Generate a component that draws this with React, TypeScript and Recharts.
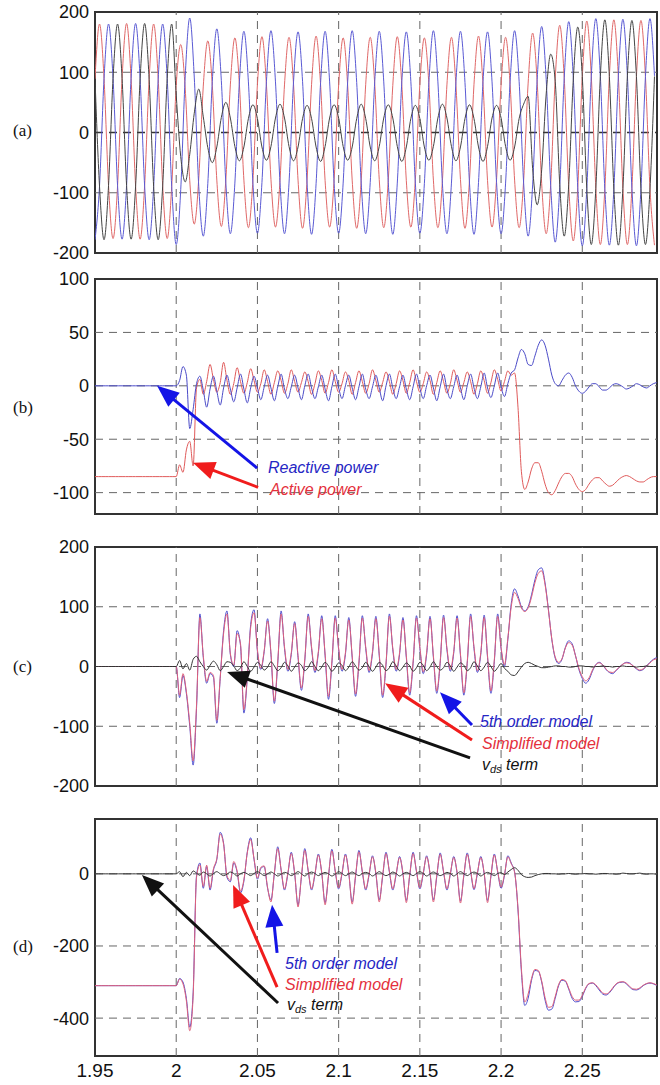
import React from "react";
import {
  LineChart,
  Line,
  XAxis,
  YAxis,
  ReferenceLine,
  ReferenceArea,
} from "recharts";

// time axis (s)
const T_START = 1.95;
const T_END = 2.296;
const STEP_A = 1 / 360;
const STEP_BCD = 1 / 480;
const X_TICKS = [1.95, 2, 2.05, 2.1, 2.15, 2.2, 2.25];
const X_GRID = [2, 2.05, 2.1, 2.15, 2.2, 2.25];

// (a) stator currents, sampled every STEP_A
const RED_A = [
  89, 180, 90, -88, -176, -89,
  90, 181, 89, -89, -177, -88,
  89, 180, 90, -88, -176, -90,
  78, 146, 72, -80, -152, -76,
  77, 152, 78, -79, -156, -78,
  79, 157, 80, -79, -158, -79,
  80, 159, 79, -78, -157, -80,
  79, 158, 80, -79, -159, -79,
  80, 160, 79, -80, -157, -78,
  79, 157, 78, -79, -159, -80,
  80, 158, 80, -78, -158, -79,
  78, 159, 79, -80, -157, -78,
  80, 157, 80, -79, -158, -80,
  79, 158, 78, -78, -159, -79,
  80, 160, 79, -80, -157, -78,
  79, 158, 80, -79, -158, -80,
  82, 165, 84, -85, -168, -86,
  89, 178, 90, -90, -180, -91,
  92, 185, 93, -92, -186, -93,
  93, 187, 92, -93, -186, -92,
  93, 186, 93, -92, -187,
];
const BLUE_A = [
  -178, -89, 89, 180, 90, -88,
  -177, -88, 90, 181, 89, -89,
  -178, -90, 88, 180, 90, -89,
  -186, -95, 94, 190, 92, -90,
  -172, -85, 85, 172, 86, -84,
  -168, -84, 84, 168, 84, -84,
  -167, -83, 85, 169, 84, -83,
  -168, -84, 84, 167, 85, -84,
  -169, -85, 83, 168, 84, -85,
  -167, -84, 84, 169, 83, -84,
  -168, -83, 85, 168, 84, -83,
  -169, -84, 84, 167, 85, -84,
  -167, -85, 83, 169, 84, -85,
  -168, -84, 84, 168, 83, -84,
  -169, -83, 85, 167, 84, -83,
  -168, -84, 84, 169, 85, -84,
  -172, -87, 88, 176, 88, -88,
  -182, -91, 91, 184, 92, -92,
  -188, -94, 94, 189, 94, -94,
  -187, -94, 94, 188, 94, -93,
  -188, -94, 93, 189, 94,
];
const BLACK_A = [
  89, -89, -178, -88, 90, 180,
  90, -88, -177, -89, 89, 181,
  88, -90, -178, -89, 90, 180,
  62, -40, -82, -36, 32, 72,
  26, -25, -50, -24, 25, 50,
  24, -23, -47, -24, 23, 46,
  23, -24, -46, -23, 24, 47,
  24, -23, -47, -24, 23, 45,
  23, -24, -48, -23, 24, 46,
  24, -23, -46, -24, 23, 47,
  23, -24, -47, -23, 24, 46,
  24, -23, -48, -24, 23, 45,
  23, -24, -46, -23, 24, 47,
  24, -23, -47, -24, 23, 46,
  23, -24, -48, -23, 24, 45,
  24, -23, -46, -24, 23, 47,
  60, -60, -120, -62, 64, 130,
  85, -86, -172, -86, 87, 175,
  93, -93, -186, -93, 93, 187,
  93, -94, -187, -93, 94, 186,
  93, -93, -186, -94, 93,
];

// (b) powers, sampled every STEP_BCD
const REACTIVE_B = [
  0, 0, 0, 0, 0, 0, 0, 0, 0, 0, 0, 0, 0, 0, 0, 0, 0, 0, 0, 0, 0, 0, 0, 0, 0,
  5, 18, 10, -40, -22, 2, 9,
  -4, -20, -3, 9, -5, -18, -2, 10, -3, -15, -2, 11, -3, -16, -2, 9,
  -2, -13, -1, 10, -2, -14, -1, 11, -3, -12, -1, 10, -2, -13, 0, 11,
  -2, -12, -1, 10, -3, -14, -1, 11, -2, -12, 0, 10, -2, -13, -1, 11,
  -3, -12, -1, 10, -2, -14, 0, 11, -2, -12, -1, 10, -3, -13, -1, 11,
  -2, -12, 0, 10, -2, -14, -1, 11, -3, -12, -1, 10, -2, -13, 0, 11,
  -2, -12, -1, 12, -2, -11, 0, 12, -1, -10, 2, 12,
  15, 26, 34, 30, 20, 19, 28, 38, 43, 38, 25, 10, 2, 0, 5, 10, 12, 8, 0, -5,
  -7, -5, -1, 2, 2, -1, -4, -4, -2, 1, 2, 1, -1, -3, -2, 0, 2, 1, -1, -2,
  0, 2, 3,
];
const ACTIVE_B = [
  -85, -85, -85, -85, -85, -85, -85, -85, -85, -85, -85, -85, -85, -85, -85,
  -85, -85, -85, -85, -85, -85, -85, -85, -85, -85,
  -74, -81, -60, -52, -75, -2, 6,
  -8, 4, 20, 6, -6, 3, 22, 5, -8, 2, 17, 4, -7, 3, 16, 5,
  -6, 2, 15, 4, -8, 3, 14, 5, -7, 2, 15, 4, -6, 3, 13, 4,
  -8, 2, 14, 5, -7, 3, 15, 4, -6, 2, 13, 5, -8, 3, 14, 4,
  -7, 2, 15, 5, -6, 3, 13, 4, -8, 2, 14, 5, -7, 3, 15, 4,
  -6, 2, 13, 5, -8, 3, 14, 4, -7, 2, 15, 5, -6, 3, 13, 4,
  -8, 2, 14, 5, -7, 3, 15, 6, -5, 4, 14, 10,
  12, -20, -80, -97, -90, -78, -72, -72, -80, -92, -100, -102, -98, -91, -85,
  -82, -82, -85, -92, -97, -99, -97, -92, -88, -86, -86, -89, -92, -94, -93,
  -90, -87, -85, -84, -85, -87, -89, -90, -90, -88, -86, -85, -85,
];

// (c) rotor current, sampled every STEP_BCD
const FIFTH_C = [
  0, 0, 0, 0, 0, 0, 0, 0, 0, 0, 0, 0, 0, 0, 0, 0, 0, 0, 0, 0, 0, 0, 0, 0, 0,
  -52, -15, -45, -100, -165, -70, 88, 15, -28, -12, -18, -95, -20, 60, 93,
  20, 0, 60, 35, -78, -20, 70, 95,
  25, -5, 25, 80, 20, -62, 5, 93,
  30, -8, 20, 75, 15, -40, 10, 88,
  30, -10, 22, 85, 18, -55, 5, 85,
  28, -8, 20, 82, 15, -50, 5, 85,
  30, -10, 22, 84, 18, -52, 3, 88,
  28, -8, 20, 82, 15, -48, 5, 85,
  30, -12, 20, 84, 15, -45, 5, 86,
  28, -8, 22, 85, 18, -48, 5, 88,
  30, -10, 20, 86, 15, -45, 8, 88,
  30, 0, 45, 105, 130, 118, 100, 93, 100, 120, 145, 162, 165, 140, 95, 45,
  14, 5, 12, 32, 43, 38, 18, -5, -20, -28, -22, -8, 3, 7, 3, -5, -10, -12,
  -7, -1, 4, 7, 6, 1, -4, -7, -5, 1, 7, 12, 15,
];
const SIMPLE_C = [
  0, 0, 0, 0, 0, 0, 0, 0, 0, 0, 0, 0, 0, 0, 0, 0, 0, 0, 0, 0, 0, 0, 0, 0, 0,
  -48, -12, -42, -95, -158, -65, 82, 18, -25, -10, -15, -90, -18, 55, 88,
  22, 2, 55, 38, -72, -18, 65, 90,
  28, -3, 27, 76, 23, -58, 8, 88,
  33, -5, 23, 72, 18, -36, 13, 84,
  33, -7, 25, 80, 21, -50, 8, 81,
  31, -5, 23, 78, 18, -46, 8, 81,
  33, -7, 25, 80, 21, -48, 6, 84,
  31, -5, 23, 78, 18, -44, 8, 81,
  33, -9, 23, 80, 18, -41, 8, 82,
  31, -5, 25, 81, 21, -44, 8, 84,
  33, -7, 23, 82, 18, -41, 11, 84,
  32, 3, 47, 100, 124, 114, 98, 92, 98, 116, 140, 156, 160, 137, 94, 46,
  16, 7, 13, 31, 40, 36, 18, -3, -17, -24, -19, -6, 3, 6, 3, -4, -9, -10,
  -6, -1, 4, 6, 5, 1, -3, -6, -4, 1, 6, 11, 13,
];
const VDS_C = [
  0, 0, 0, 0, 0, 0, 0, 0, 0, 0, 0, 0, 0, 0, 0, 0, 0, 0, 0, 0, 0, 0, 0, 0, 0,
  10, -4, 5, -6, 12, 17, 8,
  0, -6, 2, 9, 3, -7, 0, 8,
  7, 1, -7, -2, 8, 0, -8, -1, 7, 2, -6, -1, 8, 1, -7, -2,
  7, 1, -8, -1, 6, 2, -7, -2, 8, 0, -7, -1, 7, 1, -8, -2,
  6, 2, -7, -1, 8, 1, -6, -2, 7, 0, -8, -1, 7, 2, -7, -2,
  8, 1, -7, -1, 6, 1, -8, -2, 7, 2, -7, -1, 8, 0, -6, -2,
  7, 1, -8, -1, 6, 2, -7, -2, 8, 1, -7, -1, 7, 0, -8, -2,
  5, -3, -8, -14, -15, -9, -1, 5, 7, 5, 2, 0, -2, -2, -1, 0, 1, 1, 0, 0,
  -1, -1, 0, 1, 1, 0, 0, -1, 0, 0, 1, 0, 0, -1, 0, 0, 1, 0, 0, 0,
  -1, 0, 0, 1, 0, 0, 0,
];

// (d) rotor current, sampled every STEP_BCD
const FIFTH_D = [
  -310, -310, -310, -310, -310, -310, -310, -310, -310, -310, -310, -310, -310,
  -310, -310, -310, -310, -310, -310, -310, -310, -310, -310, -310, -310,
  -290, -300, -345, -425, -330, -5, 30, -40, 20, -45, 10, 40, 115, 85, -10,
  -22, 30, 5, -53, -20, 60, 100, 40,
  -15, 15, 20, -40, -72, 0, 75, 10,
  -45, 0, 60, 0, -86, -10, 70, 8,
  -45, -2, 55, 2, -80, -8, 68, 6,
  -42, 0, 55, 0, -78, -8, 65, 5,
  -45, -3, 50, 0, -72, -8, 60, 5,
  -45, -2, 48, 0, -74, -6, 60, 6,
  -42, 0, 50, 0, -72, -8, 58, 5,
  -45, -2, 48, 2, -75, -6, 58, 6,
  -44, 0, 48, 0, -74, -8, 55, 5,
  -40, -5, 50, 30,
  5, -100, -270, -365, -345, -295, -268, -270, -300, -350, -378, -375, -345,
  -310, -295, -298, -320, -345, -355, -354, -340, -318, -305, -303, -310,
  -322, -333, -336, -330, -318, -306, -301, -300, -305, -314, -321, -322,
  -318, -310, -305, -303, -305, -309,
];
const SIMPLE_D = [
  -310, -310, -310, -310, -310, -310, -310, -310, -310, -310, -310, -310, -310,
  -310, -310, -310, -310, -310, -310, -310, -310, -310, -310, -310, -310,
  -292, -305, -352, -435, -340, -10, 25, -35, 24, -40, 14, 42, 110, 82, -6,
  -18, 34, 8, -48, -16, 58, 95, 42,
  -12, 18, 22, -38, -78, 3, 70, 12,
  -42, 3, 56, 3, -92, -6, 65, 10,
  -42, 1, 52, 5, -86, -4, 64, 8,
  -39, 3, 52, 3, -84, -4, 61, 7,
  -42, 0, 47, 3, -78, -4, 56, 7,
  -42, 1, 45, 3, -80, -2, 56, 8,
  -39, 3, 47, 3, -78, -4, 54, 7,
  -42, 1, 45, 5, -81, -2, 54, 8,
  -41, 3, 45, 3, -80, -4, 52, 7,
  -37, -2, 47, 28,
  4, -95, -262, -355, -333, -290, -265, -268, -297, -343, -370, -368, -340,
  -307, -293, -296, -317, -340, -350, -350, -337, -316, -304, -302, -308,
  -319, -330, -333, -328, -316, -305, -300, -299, -303, -312, -319, -320,
  -316, -309, -304, -302, -304, -308,
];
const VDS_D = [
  0, 0, 0, 0, 0, 0, 0, 0, 0, 0, 0, 0, 0, 0, 0, 0, 0, 0, 0, 0, 0, 0, 0, 0, 0,
  6, -8, 4, -5, 8, 2, -4,
  5, 0, -6, 1, 6, 0, -5, -1, 5, 1, -6, 0, 4, 0, -5, 1,
  6, 1, -5, 0, 5, 0, -6, -1, 4, 1, -5, 0, 6, 0, -6, 1,
  5, 1, -5, 0, 4, 0, -6, -1, 6, 1, -5, 0, 5, 0, -5, 1,
  4, 1, -6, 0, 6, 0, -5, -1, 5, 1, -6, 0, 4, 0, -5, 1,
  6, 1, -6, 0, 5, 0, -5, -1, 4, 1, -6, 0, 6, 0, -5, 1,
  5, 1, -6, 0, 4, 0, -5, 1,
  3, -2, 5, 12, 17, 10, -2, -8, -10, -9, -5, -2, 0, 1, 1, 0, 0, -1, 0, 0,
  1, 0, -1, 0, 0, 1, 0, 0, -1, 0, 1, 1, 0, 0, -1, 0, 2, 1, 0, 0,
  1, 2, 0, -1, 0, 0, -1,
];

const FONT_SANS = "'Liberation Sans', Arial, Helvetica, sans-serif";
const FONT_SERIF = "'Liberation Serif', 'Times New Roman', serif";

const ARROW_BLUE = "#1414e6";
const ARROW_RED = "#f01c1c";
const ARROW_BLACK = "#111111";

// room around each plot so edge tick labels are not clipped
const PAD = 16;

function toRows(step: number, series: Record<string, number[]>) {
  const keys = Object.keys(series);
  return series[keys[0]].map((_, i) => {
    const row: Record<string, number> = { t: T_START + i * step };
    keys.forEach((k) => (row[k] = series[k][i]));
    return row;
  });
}

const dataA = toRows(STEP_A, { red: RED_A, blue: BLUE_A, black: BLACK_A });
const dataB = toRows(STEP_BCD, { q: REACTIVE_B, p: ACTIVE_B });
const dataC = toRows(STEP_BCD, { fifth: FIFTH_C, simple: SIMPLE_C, vds: VDS_C });
const dataD = toRows(STEP_BCD, { fifth: FIFTH_D, simple: SIMPLE_D, vds: VDS_D });

// arrows: [tail t, tail value] -> [tip t, tip value]
const ARROWS_B = [
  { color: ARROW_BLUE, from: [2.0498, -77], to: [1.9882, 0] },
  { color: ARROW_RED, from: [2.0504, -95], to: [2.0103, -72] },
];
const ARROWS_C = [
  { color: ARROW_BLACK, from: [2.1809, -153], to: [2.0313, -9] },
  { color: ARROW_RED, from: [2.1821, -123], to: [2.1286, -28] },
  { color: ARROW_BLUE, from: [2.1821, -98], to: [2.1624, -43] },
];
const ARROWS_D = [
  { color: ARROW_BLACK, from: [2.0627, -358], to: [1.9789, -3] },
  { color: ARROW_RED, from: [2.0621, -314], to: [2.035, -31] },
  { color: ARROW_BLUE, from: [2.0621, -219], to: [2.059, -86] },
];

function arrowShape(color: string) {
  return (p: any) => {
    const { x1, y1, x2, y2 } = p;
    const dx = x2 - x1;
    const dy = y2 - y1;
    const len = Math.hypot(dx, dy) || 1;
    const ux = dx / len;
    const uy = dy / len;
    const hl = 22;
    const hw = 9;
    const bx = x2 - ux * hl;
    const by = y2 - uy * hl;
    return (
      <g>
        <line
          x1={x1}
          y1={y1}
          x2={bx + ux * 3}
          y2={by + uy * 3}
          stroke={color}
          strokeWidth={3}
        />
        <polygon
          points={`${x2},${y2} ${bx - uy * hw},${by + ux * hw} ${bx + uy * hw},${by - ux * hw}`}
          fill={color}
        />
      </g>
    );
  };
}

type LineSpec = { key: string; color: string; width?: number };

function Panel({
  top,
  plotHeight,
  data,
  lines,
  yDomain,
  yTicks,
  arrows = [],
  showX = false,
  zeroStrong = false,
}: {
  top: number;
  plotHeight: number;
  data: Record<string, number>[];
  lines: LineSpec[];
  yDomain: [number, number];
  yTicks: number[];
  arrows?: { color: string; from: number[]; to: number[] }[];
  showX?: boolean;
  zeroStrong?: boolean;
}) {
  const xHeight = showX ? 30 : 0;
  return (
    <div style={{ position: "absolute", left: 0, top: top - PAD }}>
      <LineChart
        width={660}
        height={plotHeight + 2 * PAD + xHeight}
        data={data}
        margin={{ top: PAD, right: 3, bottom: PAD, left: 0 }}
      >
        <XAxis
          type="number"
          dataKey="t"
          domain={[T_START, T_END]}
          allowDataOverflow
          ticks={X_TICKS}
          interval={0}
          hide={!showX}
          height={30}
          axisLine={false}
          tickLine={false}
          tickSize={6}
          tickMargin={2}
          tick={{ fontSize: 19, fill: "#111", fontFamily: FONT_SANS }}
        />
        <YAxis
          type="number"
          domain={yDomain}
          ticks={yTicks}
          interval={0}
          allowDataOverflow
          width={95}
          axisLine={false}
          tickLine={false}
          tickSize={6}
          tickMargin={0}
          tick={{ fontSize: 18, fill: "#111", fontFamily: FONT_SANS }}
        />
        {X_GRID.map((x) => (
          <ReferenceLine
            key={"gx" + x}
            x={x}
            stroke="#666"
            strokeDasharray="8 6"
          />
        ))}
        {yTicks
          .filter((y) => y > yDomain[0] && y < yDomain[1])
          .map((y) => (
            <ReferenceLine
              key={"gy" + y}
              y={y}
              stroke={zeroStrong && y === 0 ? "#333" : "#666"}
              strokeWidth={zeroStrong && y === 0 ? 1.5 : 1}
              strokeDasharray="8 6"
            />
          ))}
        {lines.map((l) => (
          <Line
            key={l.key}
            dataKey={l.key}
            type="monotone"
            stroke={l.color}
            strokeWidth={l.width ?? 1}
            dot={false}
            activeDot={false}
            isAnimationActive={false}
          />
        ))}
        {arrows.map((a, i) => (
          <ReferenceLine
            key={"ar" + i}
            segment={[
              { x: a.from[0], y: a.from[1] },
              { x: a.to[0], y: a.to[1] },
            ]}
            ifOverflow="visible"
            shape={arrowShape(a.color)}
          />
        ))}
        <ReferenceArea
          x1={T_START}
          x2={T_END}
          y1={yDomain[0]}
          y2={yDomain[1]}
          fill="none"
          stroke="#333"
          strokeWidth={2}
          ifOverflow="visible"
        />
      </LineChart>
    </div>
  );
}

function Note({
  x,
  y,
  color,
  children,
}: {
  x: number;
  y: number;
  color: string;
  children: React.ReactNode;
}) {
  return (
    <div
      style={{
        position: "absolute",
        left: x,
        top: y - 13.5,
        color,
        fontFamily: FONT_SANS,
        fontStyle: "italic",
        fontSize: 16,
        lineHeight: "16px",
        whiteSpace: "nowrap",
      }}
    >
      {children}
    </div>
  );
}

function Vds() {
  return (
    <span>
      v<span style={{ fontSize: 11, position: "relative", top: 3 }}>ds</span>{" "}
      term
    </span>
  );
}

function Tag({ y, text }: { y: number; text: string }) {
  return (
    <div
      style={{
        position: "absolute",
        left: 13,
        top: y - 10,
        fontFamily: FONT_SERIF,
        fontSize: 17,
        lineHeight: "20px",
        color: "#111",
      }}
    >
      {text}
    </div>
  );
}

const TEXT_BLUE = "#2626c4";
const TEXT_RED = "#e4303c";
const TEXT_BLACK = "#111";

export default function App() {
  return (
    <div
      style={{
        position: "absolute",
        left: 0,
        top: 0,
        width: 660,
        height: 1085,
        background: "#fff",
        overflow: "hidden",
      }}
    >
      <Panel
        top={12}
        plotHeight={241}
        data={dataA}
        yDomain={[-200, 200]}
        yTicks={[-200, -100, 0, 100, 200]}
        zeroStrong
        lines={[
          { key: "red", color: "#e06868" },
          { key: "blue", color: "#5a5ad4" },
          { key: "black", color: "#444" },
        ]}
      />
      <Panel
        top={279}
        plotHeight={235}
        data={dataB}
        yDomain={[-120, 100]}
        yTicks={[-100, -50, 0, 50, 100]}
        arrows={ARROWS_B}
        lines={[
          { key: "p", color: "#e05a5a" },
          { key: "q", color: "#4a4ac8" },
        ]}
      />
      <Panel
        top={547}
        plotHeight={239}
        data={dataC}
        yDomain={[-200, 200]}
        yTicks={[-200, -100, 0, 100, 200]}
        arrows={ARROWS_C}
        lines={[
          { key: "fifth", color: "#4f4fcf" },
          { key: "simple", color: "#e0607a" },
          { key: "vds", color: "#333" },
        ]}
      />
      <Panel
        top={819}
        plotHeight={237}
        data={dataD}
        yDomain={[-505, 152]}
        yTicks={[-400, -200, 0]}
        arrows={ARROWS_D}
        showX
        lines={[
          { key: "fifth", color: "#4f4fcf" },
          { key: "simple", color: "#e0607a" },
          { key: "vds", color: "#333" },
        ]}
      />

      <Tag y={131} text="(a)" />
      <Tag y={408} text="(b)" />
      <Tag y={667} text="(c)" />
      <Tag y={947} text="(d)" />

      <Note x={268} y={473} color={TEXT_BLUE}>Reactive power</Note>
      <Note x={270} y={495} color={TEXT_RED}>Active power</Note>

      <Note x={480} y={727} color={TEXT_BLUE}>5th order model</Note>
      <Note x={482} y={749} color={TEXT_RED}>Simplified model</Note>
      <Note x={482} y={770} color={TEXT_BLACK}>
        <Vds />
      </Note>

      <Note x={285} y={969} color={TEXT_BLUE}>5th order model</Note>
      <Note x={285} y={990} color={TEXT_RED}>Simplified model</Note>
      <Note x={287} y={1010} color={TEXT_BLACK}>
        <Vds />
      </Note>
    </div>
  );
}
